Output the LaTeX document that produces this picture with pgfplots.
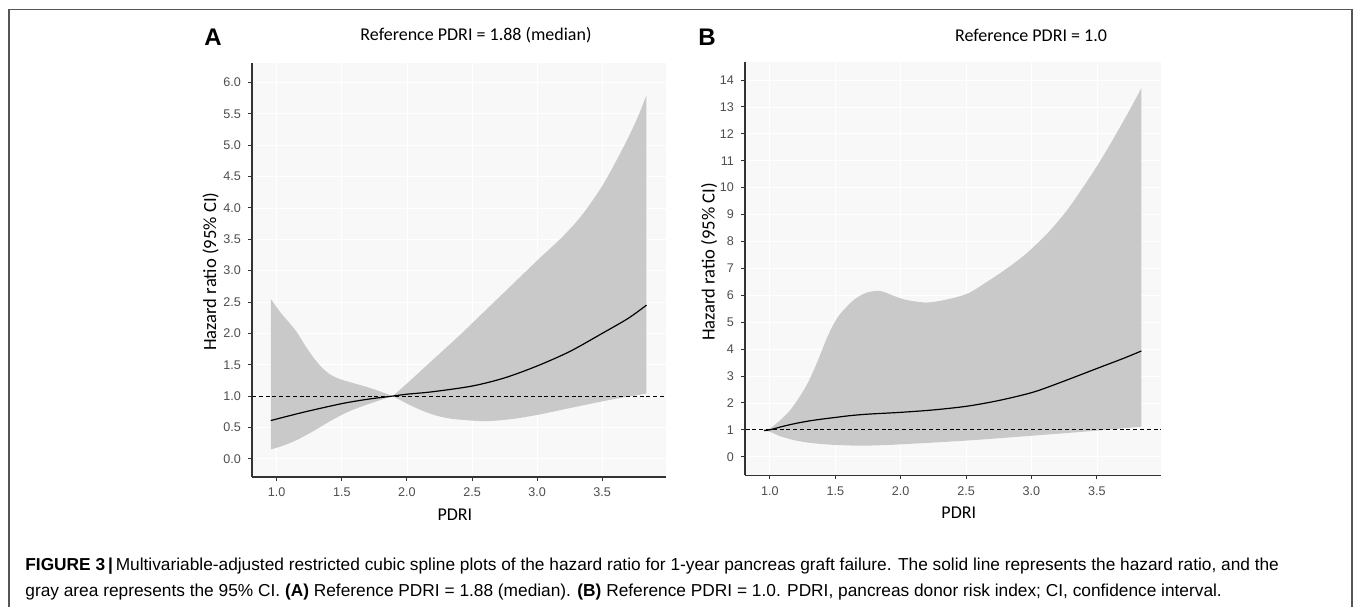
\documentclass[border=0pt]{standalone}
\usepackage{fontspec}
\setmainfont{Liberation Sans}
\newfontfamily\calib{Carlito}
\usepackage{pgfplots}
\pgfplotsset{compat=1.18}
\usepgfplotslibrary{fillbetween}

\definecolor{ribbon}{HTML}{C9C9C9}
\definecolor{panelbg}{HTML}{F8F8F8}
\definecolor{axisline}{HTML}{333333}
\definecolor{ticktext}{HTML}{4D4D4D}
\definecolor{framecol}{HTML}{555555}

\pgfplotsset{
  hrpanel/.style={
    scale only axis,
    anchor=south west,
    axis lines*=left,
    axis line style={axisline, line width=0.6pt},
    axis background/.style={fill=panelbg},
    tick style={axisline, line width=0.5pt},
    tick align=outside,
    major tick length=2pt,
    tick label style={font=\fontsize{6.3}{7}\selectfont, text=ticktext},
    /pgf/number format/assume math mode=true,
    grid=major,
    major grid style={white, line width=0.4pt},
    xtick={1,1.5,2,2.5,3,3.5},
    xticklabel style={/pgf/number format/.cd, fixed, fixed zerofill, precision=1},
    xmin=0.81, xmax=3.99,
    xlabel={PDRI},
    xlabel style={font=\calib\fontsize{9}{10}\selectfont, anchor=center},
    ylabel={Hazard ratio (95\% CI)},
    ylabel style={anchor=center, font=\calib\fontsize{9.3}{10}\selectfont},
  },
  refline/.style={black, line width=0.55pt, dash pattern=on 2pt off 1.4pt},
  hrline/.style={black, line width=0.6pt, smooth},
  edge/.style={draw=none, smooth},
}

\begin{document}
\begin{tikzpicture}
\draw[framecol, line width=0.6pt] (4.5pt,-305pt) -- (4.5pt,-4.65pt) -- (676pt,-4.65pt) -- (676pt,-305pt);

% ---------- panel A: reference PDRI = 1.88 ----------
\begin{axis}[hrpanel,
  at={(126pt,-238.5pt)}, width=207pt, height=207pt,
  ymin=-0.29, ymax=6.31,
  ytick={0,0.5,1,1.5,2,2.5,3,3.5,4,4.5,5,5.5,6},
  yticklabel style={/pgf/number format/.cd, fixed, fixed zerofill, precision=1},
  xlabel style={at={(axis description cs:0.49,-0.092)}},
  ylabel style={at={(axis description cs:-0.1,0.496)}},
]
  % ribbon left of the reference point
  \addplot[edge, name path=aul] coordinates {
    (0.954,2.55) (1.03,2.33) (1.10,2.16) (1.154,2.02) (1.22,1.80) (1.28,1.62)
    (1.34,1.47) (1.40,1.36) (1.46,1.29) (1.50,1.26) (1.60,1.20) (1.70,1.14)
    (1.80,1.07) (1.89,1.00)};
  \addplot[edge, name path=all] coordinates {
    (0.954,0.15) (1.05,0.21) (1.154,0.30) (1.28,0.44) (1.41,0.60) (1.538,0.74)
    (1.666,0.845) (1.794,0.935) (1.89,1.00)};
  \addplot[ribbon, draw=none] fill between[of=aul and all];
  % ribbon right of the reference point
  \addplot[edge, name path=aur] coordinates {
    (1.89,1.00) (2.00,1.20) (2.20,1.58) (2.40,1.96) (2.60,2.36) (2.80,2.76)
    (3.00,3.16) (3.20,3.55) (3.35,3.90) (3.50,4.35) (3.60,4.72) (3.70,5.12)
    (3.78,5.48) (3.84,5.80)};
  \addplot[edge, name path=alr] coordinates {
    (1.89,1.00) (2.05,0.83) (2.178,0.72) (2.306,0.65) (2.434,0.62) (2.61,0.60)
    (2.79,0.63) (2.92,0.67) (3.05,0.72) (3.30,0.83) (3.56,0.94) (3.84,1.04)};
  \addplot[ribbon, draw=none] fill between[of=aur and alr];
  \addplot[refline] coordinates {(0.81,1) (3.99,1)};
  \addplot[hrline] coordinates {
    (0.954,0.61) (1.2,0.74) (1.5,0.88) (1.7,0.95) (1.89,1.00) (2.0,1.03)
    (2.2,1.07) (2.5,1.16) (2.75,1.29) (3.0,1.48) (3.25,1.71) (3.5,2.00)
    (3.7,2.24) (3.84,2.45)};
\end{axis}

% ---------- panel B: reference PDRI = 1.0 ----------
\begin{axis}[hrpanel,
  at={(372.5pt,-237.65pt)}, width=208pt, height=206.8pt,
  ymin=-0.69, ymax=14.68,
  ytick={0,1,...,14},
  xlabel style={at={(axis description cs:0.514,-0.091)}},
  ylabel style={at={(axis description cs:-0.086,0.516)}},
]
  \addplot[edge, name path=bu] coordinates {
    (0.954,1.02) (1.0,1.05) (1.08,1.36) (1.15,1.70) (1.21,2.10) (1.28,2.65)
    (1.336,3.22) (1.39,3.85) (1.44,4.46) (1.49,4.95) (1.54,5.32) (1.64,5.82)
    (1.74,6.10) (1.845,6.16) (1.95,5.97) (2.05,5.82) (2.20,5.73) (2.35,5.84)
    (2.51,6.06) (2.66,6.50) (2.81,6.99) (2.96,7.55) (3.12,8.29) (3.27,9.15)
    (3.42,10.20) (3.52,10.95) (3.60,11.60) (3.70,12.45) (3.78,13.15) (3.84,13.70)};
  \addplot[edge, name path=bl] coordinates {
    (0.954,0.97) (1.0,0.93) (1.08,0.76) (1.2,0.60) (1.3,0.52) (1.4,0.47)
    (1.5,0.44) (1.6,0.42) (1.7,0.41) (1.8,0.42) (2.0,0.46) (2.5,0.60)
    (3.0,0.78) (3.5,0.97) (3.84,1.12)};
  \addplot[ribbon, draw=none] fill between[of=bu and bl];
  \addplot[refline] coordinates {(0.814,1) (3.99,1)};
  \addplot[hrline] coordinates {
    (0.954,0.97) (1.0,1.00) (1.1,1.13) (1.2,1.24) (1.3,1.33) (1.4,1.40)
    (1.5,1.46) (1.6,1.52) (1.74,1.58) (2.0,1.65) (2.25,1.74) (2.51,1.88)
    (2.76,2.10) (3.02,2.41) (3.27,2.85) (3.5,3.28) (3.7,3.65) (3.84,3.93)};
\end{axis}

% panel letters and titles
\node[anchor=base, font=\bfseries\fontsize{12}{14}\selectfont] at (106.5pt,-22.85pt) {A};
\node[anchor=base, font=\bfseries\fontsize{12}{14}\selectfont] at (353.5pt,-22.5pt) {B};
\node[anchor=base, font=\calib\fontsize{9}{10}\selectfont] at (238pt,-20pt) {Reference PDRI = 1.88 (median)};
\node[anchor=base, font=\calib\fontsize{9}{10}\selectfont] at (515.5pt,-20.75pt) {Reference PDRI = 1.0};

% caption
\node[anchor=base west, inner sep=0pt, font=\fontsize{8.65}{10}\selectfont] at (12.5pt,-285pt)
  {\textbf{FIGURE 3\,|}\,Multivariable-adjusted restricted cubic spline plots of the hazard ratio for 1-year pancreas graft failure. The solid line represents the hazard ratio, and the};
\node[anchor=base west, inner sep=0pt, font=\fontsize{8.65}{10}\selectfont] at (12.5pt,-298.3pt)
  {gray area represents the 95\% CI. \textbf{(A)} Reference PDRI = 1.88 (median). \textbf{(B)} Reference PDRI = 1.0. PDRI, pancreas donor risk index; CI, confidence interval.};

\pgfresetboundingbox
\path[use as bounding box] (0,0) rectangle (677.5pt,-303pt);
\end{tikzpicture}
\end{document}
